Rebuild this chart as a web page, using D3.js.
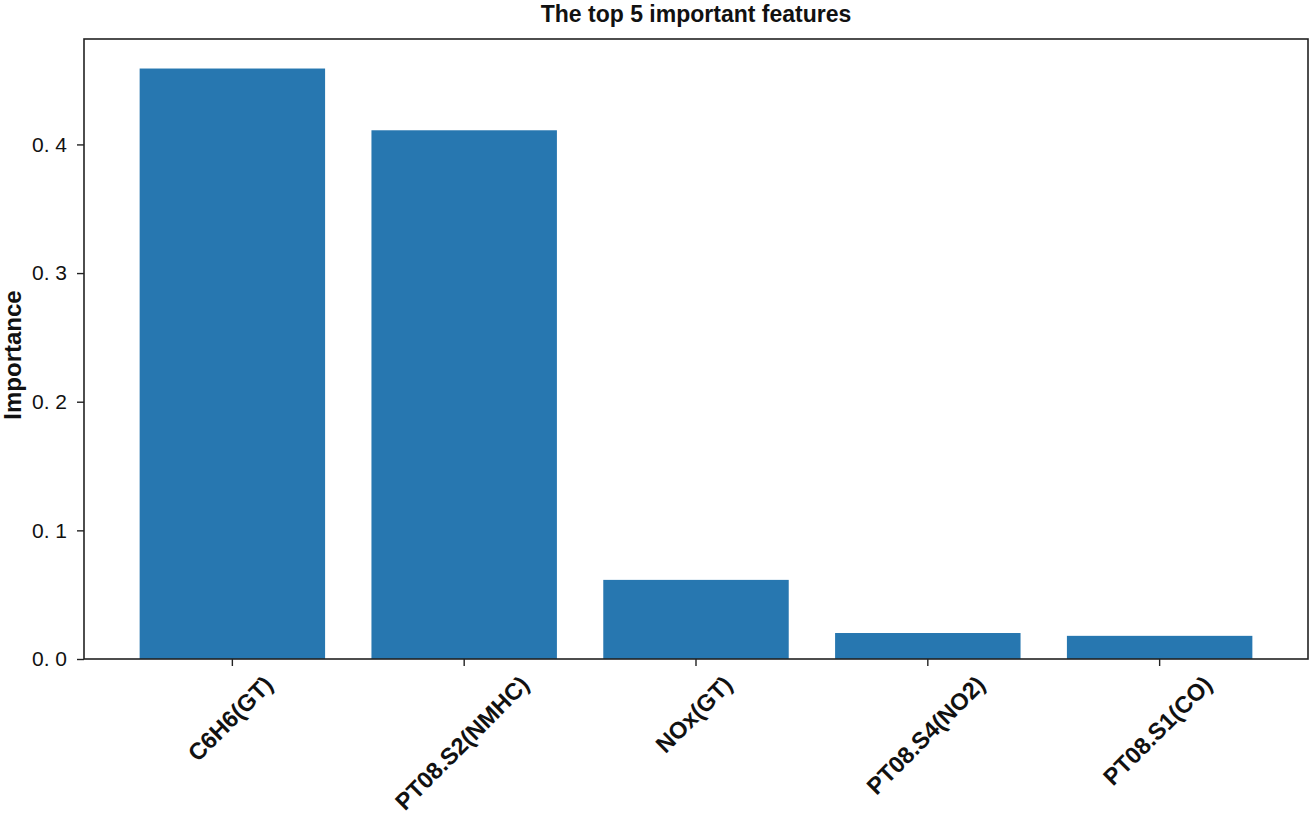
<!DOCTYPE html>
<html>
<head>
<meta charset="utf-8">
<script src="https://cdn.jsdelivr.net/npm/d3@7"></script>
<style>
body { margin: 0; background: #fff; }
svg { display: block; }
</style>
</head>
<body>
<svg width="1313" height="821"></svg>
<script>
// feature names and their importance
var features = ["C6H6(GT)", "PT08.S2(NMHC)", "NOx(GT)", "PT08.S4(NO2)", "PT08.S1(CO)"];
var importance = [0.459, 0.411, 0.0615, 0.0202, 0.0180];
var yTicks = [0.0, 0.1, 0.2, 0.3, 0.4];

var svg = d3.select("svg");
// plot box (don't call it "top", that's window.top)
var pLeft = 84, pRight = 1308, pTop = 39, pBottom = 659;

// matplotlib style: bars of width 0.8, 5% margins
var x = d3.scaleLinear()
    .domain([-0.64, features.length - 1 + 0.64])
    .range([pLeft, pRight]);
var ymax = d3.max(importance) * 1.05;
var y = d3.scaleLinear().domain([0, ymax]).range([pBottom, pTop]);

svg.append("g").selectAll("rect")
    .data(importance)
    .enter().append("rect")
    .attr("x", function(d, i) { return x(i - 0.4); })
    .attr("width", function(d, i) { return x(i + 0.4) - x(i - 0.4); })
    .attr("y", function(d) { return y(d); })
    .attr("height", function(d) { return pBottom - y(d); })
    .attr("fill", "#2777b0");

// frame
svg.append("rect")
    .attr("x", pLeft).attr("y", pTop)
    .attr("width", pRight - pLeft).attr("height", pBottom - pTop)
    .attr("fill", "none").attr("stroke", "#222").attr("stroke-width", 1.6);

// y axis
var yAxis = d3.axisLeft(y).tickValues(yTicks).tickSize(7).tickPadding(10)
    .tickFormat(function(d) { return d3.format(".1f")(d).replace(".", ". "); });
var gy = svg.append("g").attr("transform", "translate(" + pLeft + ",0)").call(yAxis);
gy.select(".domain").remove();
gy.selectAll("line").attr("stroke", "#222").attr("stroke-width", 1.4);
gy.selectAll("text")
    .attr("fill", "#111")
    .style("font-family", "'Liberation Sans', Arial, sans-serif")
    .style("font-size", "21px");

// x axis ticks
var gx = svg.append("g").attr("transform", "translate(0," + pBottom + ")");
gx.selectAll("line")
    .data(features)
    .enter().append("line")
    .attr("x1", function(d, i) { return x(i); })
    .attr("x2", function(d, i) { return x(i); })
    .attr("y1", 0).attr("y2", 7)
    .attr("stroke", "#222").attr("stroke-width", 1.4);

// rotated labels, centred under the tick like matplotlib rotation=45
var labels = svg.append("g").selectAll("text")
    .data(features)
    .enter().append("text")
    .attr("text-anchor", "middle")
    .attr("dominant-baseline", "central")
    .style("font-family", "'Liberation Sans', Arial, sans-serif")
    .style("font-weight", "bold")
    .style("font-size", "23.5px")
    .attr("fill", "#111")
    .text(function(d) { return d; });

labels.each(function(d, i) {
    var len = this.getComputedTextLength();
    var half = (len + 18) * Math.SQRT1_2 / 2;
    d3.select(this).attr("transform",
        "translate(" + (x(i) - 2) + "," + (pBottom + 15 + half) + ") rotate(-45)");
});

// title
svg.append("text")
    .attr("x", (pLeft + pRight) / 2).attr("y", 22)
    .attr("text-anchor", "middle")
    .style("font-family", "'Liberation Sans', Arial, sans-serif")
    .style("font-weight", "bold")
    .style("font-size", "23px")
    .attr("fill", "#111")
    .text("The top 5 important features");

// y label
svg.append("text")
    .attr("transform", "translate(21,355) rotate(-90)")
    .attr("text-anchor", "middle")
    .style("font-family", "'Liberation Sans', Arial, sans-serif")
    .style("font-weight", "bold")
    .style("font-size", "24px")
    .attr("fill", "#111")
    .text("Importance");
</script>
</body>
</html>
